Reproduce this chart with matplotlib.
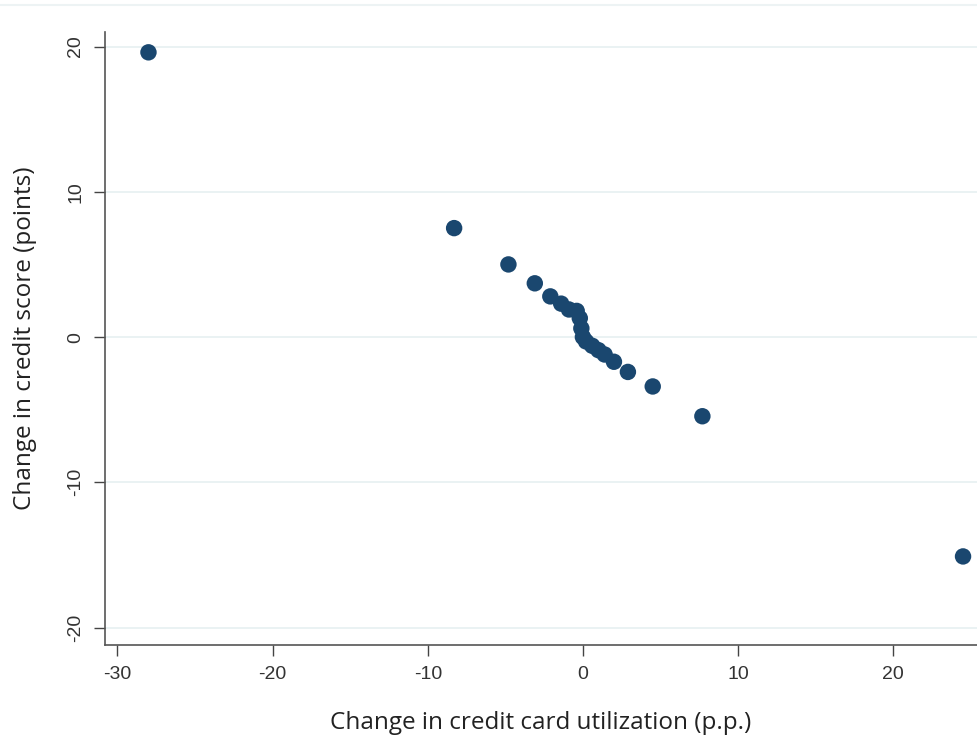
import matplotlib
matplotlib.use("Agg")
import matplotlib.pyplot as plt
from matplotlib.lines import Line2D

# Change in credit card utilization (p.p.) vs change in credit score (points)
util_change = [-28.0, -8.3, -4.8, -3.1, -2.1, -1.4, -0.9, -0.4, -0.2, -0.1,
               0.0, 0.2, 0.6, 1.0, 1.4, 2.0, 2.9, 4.5, 7.7, 24.5]
score_change = [19.6, 7.5, 5.0, 3.7, 2.8, 2.3, 1.9, 1.8, 1.3, 0.6,
                0.0, -0.3, -0.6, -0.9, -1.2, -1.7, -2.4, -3.4, -5.45, -15.1]

x_ticks = [-30, -20, -10, 0, 10, 20]
y_ticks = [-20, -10, 0, 10, 20]

NAVY = "#1a476f"
GRID = "#e6f0f1"

fig = plt.figure(figsize=(9.77, 7.44), dpi=100)
ax = fig.add_axes([0.1075, 0.133, 0.8925, 0.824])

for yv in y_ticks:
    ax.axhline(yv, color=GRID, linewidth=1.2, zorder=0)

ax.scatter(util_change, score_change, s=140, color=NAVY, edgecolors="none", zorder=3)

ax.set_xlim(-30.8, 25.4)
ax.set_ylim(-21.2, 21.0)
ax.set_xticks(x_ticks)
ax.set_yticks(y_ticks)
ax.set_xticklabels([str(v) for v in x_ticks], fontsize=14, family="Liberation Sans", color="#333333")
ax.set_yticklabels([str(v) for v in y_ticks], fontsize=14, family="Liberation Sans", color="#333333",
                   rotation=90, va="center")
ax.tick_params(axis="both", direction="out", length=8, width=1, color="#444444", pad=7)

for side in ("top", "right"):
    ax.spines[side].set_visible(False)
for side in ("left", "bottom"):
    ax.spines[side].set_color("#555555")
    ax.spines[side].set_linewidth(1.2)

ax.set_xlabel("Change in credit card utilization (p.p.)", fontsize=17.5, family="Open Sans",
              color="#222222", labelpad=20)
ax.set_ylabel("Change in credit score (points)", fontsize=17.5, family="Open Sans",
              color="#222222", labelpad=22)

# faint separator line along the top of the image
fig.add_artist(Line2D([0, 1], [0.993, 0.993], transform=fig.transFigure,
                      color="#edf3f4", linewidth=1.5))

fig.savefig("out.png", dpi=100, facecolor="white")
